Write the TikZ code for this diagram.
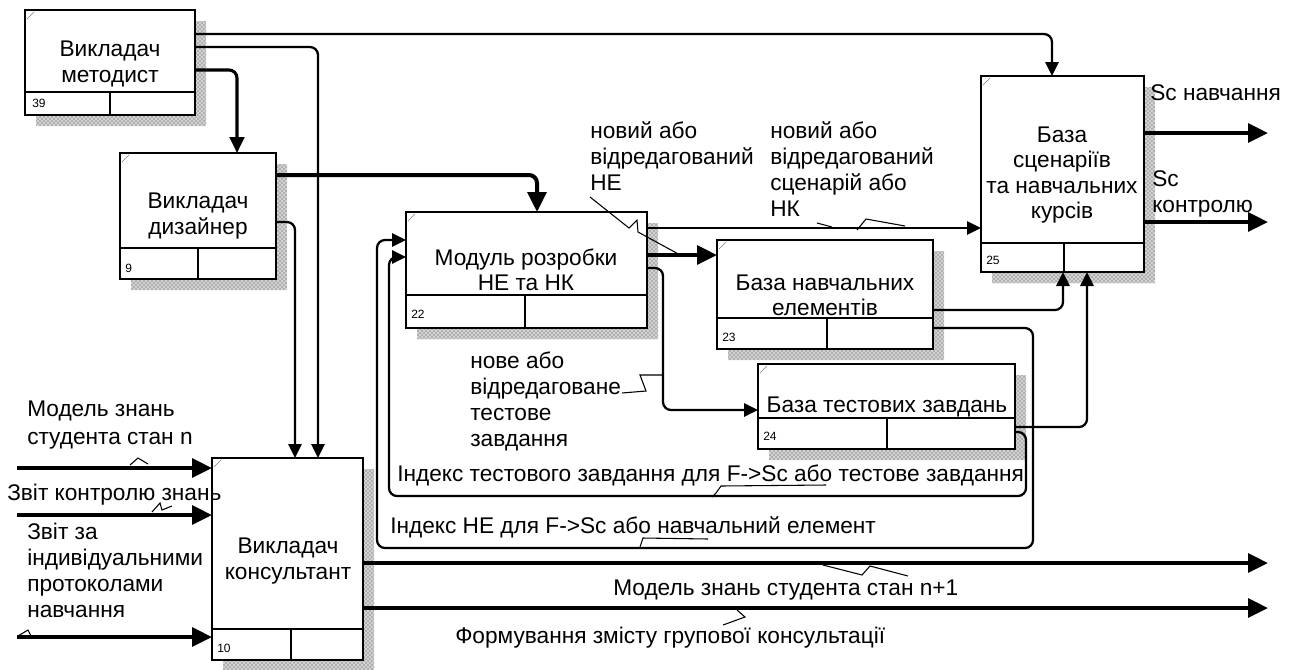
\documentclass[tikz,border=0pt]{standalone}
\usepackage{fontspec}
\setmainfont{Liberation Sans}
\usetikzlibrary{arrows.meta,calc,patterns}
\pgfdeclarelayer{bg}
\pgfsetlayers{bg,main}
\newcommand\idefbox[5]{% name, left, top, right, bottom
  \node[box={#4-#2}{#5-#3}] (#1) at ({(#2+#4)/2},{(#3+#5)/2}) {};
  \begin{pgfonlayer}{bg}
    \fill[shadow] ($(#1.north east)+(0,11)$) -- ($(#1.north east)+(11,11)$) -- ($(#1.south east)+(11,11)$)
      -- ($(#1.south west)+(11,11)$) -- ($(#1.south west)+(11,0)$) -- (#1.south east) -- cycle;
  \end{pgfonlayer}
  \draw[line width=0.5pt,gray] ($(#1.north west)+(2,9)$) -- ($(#1.north west)+(9,2)$);
}
\newcommand\idefdiv[3]{% name, divider y offset from bottom, vertical x
  \draw[line width=1.4pt] ($(#1.south west)+(0,-#2)$) -- ($(#1.south east)+(0,-#2)$);
  \draw[line width=1.4pt] (#1.south west -| #3,0) ++(0,-#2) -- (#1.south west -| #3,0);
}
\begin{document}
\begin{tikzpicture}[x=0.75pt,y=-0.75pt,
  box/.style 2 args={draw, fill=white, line width=1.4pt, minimum width={(#1)*0.75pt}, minimum height={(#2)*0.75pt}, inner sep=0pt, outer sep=0pt},
  boxtext/.style={align=center, font=\fontsize{17}{19}\selectfont, inner sep=0pt},
  num/.style={font=\fontsize{9}{10}\selectfont, anchor=west, inner sep=0pt},
  lbl/.style={align=left, font=\fontsize{17}{19.5}\selectfont, inner sep=0pt, anchor=north west},
  slbl/.style={font=\fontsize{17}{19.5}\selectfont, inner sep=0pt, anchor=west},
  shadow/.style={preaction={fill=gray!35}, pattern=crosshatch dots, pattern color=black!75},
  thinflow/.style={line width=1.7pt, rounded corners=6pt, -{Triangle[length=10.5pt,width=10pt]}},
  medflow/.style={line width=2.3pt, rounded corners=6pt, -{Triangle[length=12pt,width=11pt]}},
  thickflow/.style={line width=3pt, rounded corners=6pt, -{Triangle[length=15pt,width=14pt]}},
  leader/.style={line width=0.8pt},
]
\begin{pgfonlayer}{bg}
\fill[white] (0,0) rectangle (1293,669);
\end{pgfonlayer}
\useasboundingbox (0,0) rectangle (1293,669);

% boxes
\idefbox{b39}{25}{10}{195}{115}
\idefbox{b9}{120}{153}{276}{279}
\idefbox{b22}{406}{212}{647}{328}
\idefbox{b23}{717}{240}{933}{349}
\idefbox{b24}{758}{364}{1015}{449}
\idefbox{b25}{981}{76}{1144}{272}
\idefbox{b10}{212}{458}{363}{660}

\idefdiv{b39}{23}{110}
\idefdiv{b9}{31}{198}
\idefdiv{b22}{33}{525}
\idefdiv{b23}{31}{827}
\idefdiv{b24}{31}{887}
\idefdiv{b25}{29}{1064}
\idefdiv{b10}{31}{291}

% box texts
\node[boxtext] (t39) at (110,64) {Викладач\\методист};
\node[boxtext] (t9) at (198,216) {Викладач\\дизайнер};
\node[boxtext] (t22) at (526,270) {Модуль розробки\\НЕ та НК};
\node[boxtext] (t23) at (825,295) {База навчальних\\елементів};
\node[boxtext] (t24) at (887,407) {База тестових завдань};
\node[boxtext] (t25) at (1062,175) {База\\сценаріїв\\та навчальних\\курсів};
\node[boxtext] (t10) at (288,561) {Викладач\\консультант};

% numbers
\node[num] (n39) at (32,103) {39};
\node[num] (n9) at (125,268) {9};
\node[num] (n22) at (411,314) {22};
\node[num] (n23) at (722,337) {23};
\node[num] (n24) at (763,436) {24};
\node[num] (n25) at (986,260) {25};
\node[num] (n10) at (217,648) {10};

% free ends
\coordinate (o1) at (1268,133);
\coordinate (o2) at (1268,222);
\coordinate (o3) at (1268,563);
\coordinate (o4) at (1268,608);
\coordinate (i1) at (17,468);
\coordinate (i2) at (17,515);
\coordinate (i3) at (17,637);

% connectors
\draw[thinflow] ($(b39.north east)+(0,24)$) -| ($(b25.north west)+(71,0)$);
\draw[thinflow] ($(b39.north east)+(0,37)$) -| ($(b10.north west)+(106,0)$);
\draw[medflow] ($(b39.north east)+(0,60)$) -| ($(b9.north west)+(117,0)$);
\draw[thickflow] ($(b9.north east)+(0,22)$) -| ($(b22.north west)+(131,0)$);
\draw[thinflow] ($(b9.north east)+(0,69)$) -| ($(b10.north west)+(83,0)$);
\draw[thinflow] ($(b22.north east)+(0,16)$) -- ($(b25.north west)+(0,152)$);
\draw[thickflow] ($(b22.north east)+(0,43)$) -- ($(b23.north west)+(0,15)$);
\draw[thinflow] ($(b22.north east)+(0,56)$) -| ($(b24.north west)+(-95,46)$) -- ($(b24.north west)+(0,46)$);
\draw[thinflow] ($(b23.north east)+(0,70)$) -| ($(b25.south west)+(82,0)$);
\draw[thinflow] ($(b23.north east)+(0,88)$) -| ($(b23.north east)+(100,308)$) -| ($(b22.north west)+(-29,28)$) -- ($(b22.north west)+(0,28)$);
\draw[thinflow] ($(b24.north east)+(0,68)$) -| ($(b24.north east)+(11,132)$) -| ($(b22.north west)+(-17,45)$) -- ($(b22.north west)+(0,45)$);
\draw[thinflow] ($(b24.north east)+(0,63)$) -| ($(b25.south west)+(106,0)$);
\draw[thickflow] ($(b25.north east)+(0,57)$) -- (o1);
\draw[thickflow] ($(b25.north east)+(0,146)$) -- (o2);
\draw[thickflow] (i1) -- ($(b10.north west)+(0,10)$);
\draw[thickflow] (i2) -- ($(b10.north west)+(0,57)$);
\draw[thickflow] (i3) -- ($(b10.north west)+(0,179)$);
\draw[thickflow] ($(b10.north east)+(0,105)$) -- (o3);
\draw[thickflow] ($(b10.north east)+(0,150)$) -- (o4);

% labels
\node[lbl] (l1) at (590,121) {новий або\\відредагований\\НЕ};
\node[lbl] (l2) at (770,121) {новий або\\відредагований\\сценарій або\\НК};
\node[slbl] (l3) at (1150,93) {Sc навчання};
\node[lbl] (l4) at (1152,170) {Sc\\контролю};
\node[lbl] (l5) at (470,352) {нове або\\відредаговане\\тестове\\завдання};
\node[slbl] (l6) at (397,475) {Індекс тестового завдання для F->Sc або тестове завдання};
\node[slbl] (l7) at (390,527) {Індекс НЕ для F->Sc або навчальний елемент};
\node[slbl] (l8) at (613,590) {Модель знань студента стан n+1};
\node[slbl] (l9) at (455,638) {Формування змісту групової консультації};
\node[lbl, font=\fontsize{17}{21}\selectfont] (l10) at (27,401) {Модель знань\\студента стан n};
\node[slbl] (l11) at (7,495) {Звіт контролю знань};
\node[lbl] (l12) at (27,523) {Звіт за\\індивідуальними\\протоколами\\навчання};

% label leaders (squiggles)
\draw[leader] (590,197) -- (629,228) -- (637,220) -- (638,232) -- (682,256);
\draw[leader] (817,223) -- (832,227);
\draw[leader] (857,230) -- (866,219) -- (905,226);
\draw[leader] (622,393) -- (646,391) -- (640,375) -- (663,375);
\draw[leader] (826,485) -- (721,486) -- (716,493) -- (712,497);
\draw[leader] (708,539) -- (643,538) -- (640,547);
\draw[leader] (823,565) -- (862,575) -- (870,566) -- (908,576);
\draw[leader] (737,610) -- (745,617) -- (723,625);
\draw[leader] (130,465) -- (138,458) -- (148,464);
\draw[leader] (152,512) -- (160,503) -- (162,510) -- (172,506);
\draw[leader] (18,636) -- (28,630) -- (32,638) -- (44,636);
\end{tikzpicture}
\end{document}
